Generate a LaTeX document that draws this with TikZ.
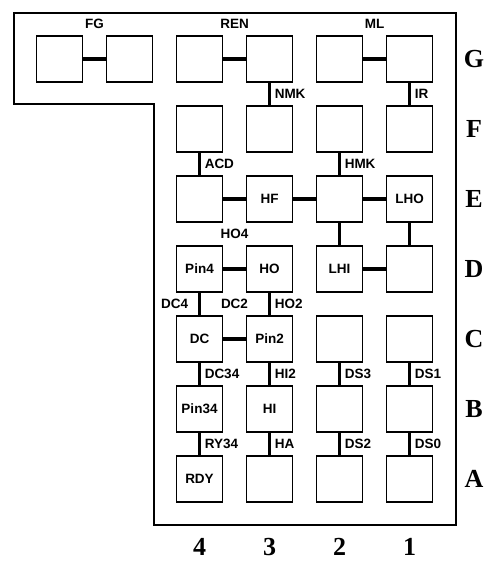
\documentclass[tikz,border=0pt]{standalone}
\usepackage{fontspec}
\setmainfont{Liberation Sans}
\newfontfamily\gridfont{Liberation Serif}
\usetikzlibrary{positioning}

\begin{document}
\begin{tikzpicture}[
            x=1pt, y=-1pt,
            cell/.style={rectangle, draw, line width=1.8pt, minimum size=46pt, inner sep=0pt, align=center, font=\bfseries\fontsize{13.5}{15}\selectfont},
            wire/.style={line width=3.5pt},
            tag/.style={inner sep=0pt, font=\bfseries\fontsize{13.5}{15}\selectfont},
            htag/.style={tag, midway, yshift=35pt},
            rtag/.style={tag, midway, anchor=west, xshift=3.5pt},
            ltag/.style={tag, midway, anchor=east, xshift=-9.5pt},
            axis/.style={inner sep=0pt, font=\gridfont\bfseries\fontsize{26}{28}\selectfont}
        ]
            \useasboundingbox (0,0) rectangle (500,569);

            % housing
            \draw[line width=2pt] (14,13) -- (456,13) -- (456,525) -- (154,525) -- (154,104) -- (14,104) -- cycle;

            % row G
            \node[cell] (fgl) at (59.5,59) {};
            \node[cell] (fgr) at (129.5,59) {};
            \node[cell] (g4) at (199.5,59) {};
            \node[cell] (g3) at (269.5,59) {};
            \node[cell] (g2) at (339.5,59) {};
            \node[cell] (g1) at (409.5,59) {};
            % row F
            \node[cell] (f4) at (199.5,129) {};
            \node[cell] (f3) at (269.5,129) {};
            \node[cell] (f2) at (339.5,129) {};
            \node[cell] (f1) at (409.5,129) {};
            % row E
            \node[cell] (e4) at (199.5,199) {};
            \node[cell] (e3) at (269.5,199) {HF};
            \node[cell] (e2) at (339.5,199) {};
            \node[cell] (e1) at (409.5,199) {LHO};
            % row D
            \node[cell] (d4) at (199.5,269) {Pin4};
            \node[cell] (d3) at (269.5,269) {HO};
            \node[cell] (d2) at (339.5,269) {LHI};
            \node[cell] (d1) at (409.5,269) {};
            % row C
            \node[cell] (c4) at (199.5,339) {DC};
            \node[cell] (c3) at (269.5,339) {Pin2};
            \node[cell] (c2) at (339.5,339) {};
            \node[cell] (c1) at (409.5,339) {};
            % row B
            \node[cell] (b4) at (199.5,409) {Pin34};
            \node[cell] (b3) at (269.5,409) {HI};
            \node[cell] (b2) at (339.5,409) {};
            \node[cell] (b1) at (409.5,409) {};
            % row A
            \node[cell] (a4) at (199.5,479) {RDY};
            \node[cell] (a3) at (269.5,479) {};
            \node[cell] (a2) at (339.5,479) {};
            \node[cell] (a1) at (409.5,479) {};

            % links
            \draw[wire] (fgl) -- node[htag] {FG} (fgr);
            \draw[wire] (g4) -- node[htag] {REN} (g3);
            \draw[wire] (g2) -- node[htag] {ML} (g1);
            \draw[wire] (g3) -- node[rtag] {NMK} (f3);
            \draw[wire] (g1) -- node[rtag] {IR} (f1);
            \draw[wire] (f4) -- node[rtag] {ACD} (e4);
            \draw[wire] (f2) -- node[rtag] {HMK} (e2);
            \draw[wire] (e4) -- (e3);
            \draw[wire] (e3) -- (e2);
            \draw[wire] (e2) -- (e1);
            \draw[wire] (e2) -- (d2);
            \draw[wire] (e1) -- (d1);
            \draw[wire] (d4) -- node[htag] {HO4} (d3);
            \draw[wire] (d2) -- (d1);
            \draw[wire] (d4) -- node[ltag] {DC4} (c4);
            \draw[wire] (d3) -- node[rtag] {HO2} (c3);
            \draw[wire] (c4) -- node[htag] {DC2} (c3);
            \draw[wire] (c4) -- node[rtag] {DC34} (b4);
            \draw[wire] (c3) -- node[rtag] {HI2} (b3);
            \draw[wire] (c2) -- node[rtag] {DS3} (b2);
            \draw[wire] (c1) -- node[rtag] {DS1} (b1);
            \draw[wire] (b4) -- node[rtag] {RY34} (a4);
            \draw[wire] (b3) -- node[rtag] {HA} (a3);
            \draw[wire] (b2) -- node[rtag] {DS2} (a2);
            \draw[wire] (b1) -- node[rtag] {DS0} (a1);

            % rows and columns
            \node[axis] (rowG) at (474,59) {G};
            \node[axis] (rowF) at (474,129) {F};
            \node[axis] (rowE) at (474,199) {E};
            \node[axis] (rowD) at (474,269) {D};
            \node[axis] (rowC) at (474,339) {C};
            \node[axis] (rowB) at (474,409) {B};
            \node[axis] (rowA) at (474,479) {A};
            \node[axis] (col4) at (199.5,547) {4};
            \node[axis] (col3) at (269.5,547) {3};
            \node[axis] (col2) at (339.5,547) {2};
            \node[axis] (col1) at (409.5,547) {1};
\end{tikzpicture}
\end{document}
